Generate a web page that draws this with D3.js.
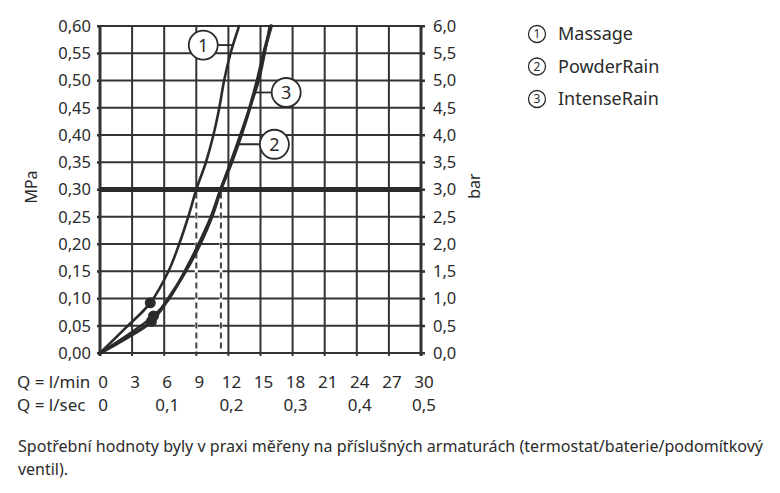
<!DOCTYPE html>
<html lang="cs">
<head>
<meta charset="utf-8">
<title>Průtokový diagram</title>
<script src="https://cdn.jsdelivr.net/npm/d3@7"></script>
<style>
body { margin: 0; background: #fff; }
svg { font-family: "Noto Sans", sans-serif; fill: #2b2b2b; }
.grid line { stroke: #333; stroke-width: 2; }
.curve { fill: none; stroke: #2b2b2b; stroke-linecap: round; }
.axis path { display: none; }
.axis line { stroke: #333; stroke-width: 2; }
.axis text { font-size: 16.5px; fill: #2b2b2b; font-family: "Noto Sans", sans-serif; }
</style>
</head>
<body>
<script>

// flow l/min on x, pressure MPa on y
var flowTicks = [0, 3, 6, 9, 12, 15, 18, 21, 24, 27, 30];
var secLabels = ["0", "0,1", "0,2", "0,3", "0,4", "0,5"]; // every 6 l/min
var mpaTicks = [0, 0.05, 0.10, 0.15, 0.20, 0.25, 0.30, 0.35, 0.40, 0.45, 0.50, 0.55, 0.60];
var barTicks = [0, 0.5, 1, 1.5, 2, 2.5, 3, 3.5, 4, 4.5, 5, 5.5, 6];

var massageQ = [0, 2.4, 4.7, 6.4, 7.4, 8.25, 9.0, 9.9, 10.6, 11.15, 11.6, 12.2, 13.0];
var massageP = [0, 0.046, 0.092, 0.15, 0.20, 0.25, 0.30, 0.35, 0.40, 0.45, 0.50, 0.55, 0.60];

var powderQ = [0, 2.5, 4.8, 6.4, 8.0, 9.35, 10.45, 11.3, 12.3, 13.2, 14.0, 14.7, 15.3, 16.0];
var powderP = [0, 0.028, 0.058, 0.10, 0.15, 0.20, 0.25, 0.30, 0.35, 0.40, 0.45, 0.50, 0.55, 0.60];

var intenseQ = [0, 2.5, 5.0, 6.5, 7.9, 9.2, 10.35, 11.25, 12.2, 13.1, 14.0, 14.85, 15.4, 15.85];
var intenseP = [0, 0.032, 0.068, 0.10, 0.15, 0.20, 0.25, 0.30, 0.35, 0.40, 0.45, 0.50, 0.55, 0.60];

var dotQ = [4.7, 4.8, 5.0];
var dotP = [0.092, 0.058, 0.068];

var refPressure = 0.30;
var refQ = [9.0, 11.3];

var seriesNames = ["Massage", "PowderRain", "IntenseRain"];
// circled number callouts: circle centre (Q, MPa) and where the leader meets the curve
var calloutQ = [9.65, 16.3, 17.4];
var calloutP = [0.565, 0.383, 0.478];
var calloutEndQ = [12.4, 13.0, 14.5];

var caption1 = "Spotřební hodnoty byly v praxi měřeny na příslušných armaturách (termostat/baterie/podomítkový";
var caption2 = "ventil).";

var svg = d3.select("body").append("svg")
  .attr("width", 780)
  .attr("height", 493);

var x = d3.scaleLinear().domain([0, 30]).range([100, 421]);
var y = d3.scaleLinear().domain([0, 0.6]).range([353, 26]);
var yBar = d3.scaleLinear().domain([0, 6]).range([353, 26]);

var comma = function(f) { return function(d) { return d3.format(f)(d).replace(".", ","); }; };

// grid
var grid = svg.append("g").attr("class", "grid");
grid.selectAll(".h").data(mpaTicks).enter().append("line")
  .attr("x1", x(0) - 3).attr("x2", x(30) + 4)
  .attr("y1", function(d) { return y(d); })
  .attr("y2", function(d) { return y(d); });
grid.selectAll(".v").data(flowTicks).enter().append("line")
  .attr("x1", function(d) { return x(d); })
  .attr("x2", function(d) { return x(d); })
  .attr("y1", y(0.6)).attr("y2", y(0) + 3)
  .style("stroke-width", function(d) { return (d == 0 || d == 30) ? 3 : 2; });

// axes labels
svg.append("g").attr("class", "axis")
  .attr("transform", "translate(" + x(0) + ",0)")
  .call(d3.axisLeft(y).tickValues(mpaTicks).tickSize(3).tickPadding(6).tickFormat(comma(".2f")));
svg.append("g").attr("class", "axis")
  .attr("transform", "translate(" + x(30) + ",0)")
  .call(d3.axisRight(yBar).tickValues(barTicks).tickSize(4).tickPadding(8).tickFormat(comma(".1f")));

// reference line at 0.3 MPa
svg.append("line")
  .attr("x1", x(0)).attr("x2", x(30))
  .attr("y1", y(refPressure)).attr("y2", y(refPressure))
  .attr("stroke", "#2b2b2b").attr("stroke-width", 5);

// dashed drop lines: white underlay, dark dashes on top
svg.selectAll(".refbg").data(refQ).enter().append("line")
  .attr("x1", function(d) { return x(d); })
  .attr("x2", function(d) { return x(d); })
  .attr("y1", y(refPressure) + 3).attr("y2", y(0) - 1.5)
  .attr("stroke", "#fff").attr("stroke-width", 3);
svg.selectAll(".ref").data(refQ).enter().append("line")
  .attr("x1", function(d) { return x(d); })
  .attr("x2", function(d) { return x(d); })
  .attr("y1", y(refPressure) + 3).attr("y2", y(0) - 1.5)
  .attr("stroke", "#444").attr("stroke-width", 2)
  .attr("stroke-dasharray", "6,4");

// curves
var line = d3.line()
  .x(function(d) { return x(d[0]); })
  .y(function(d) { return y(d[1]); })
  .curve(d3.curveCatmullRom.alpha(0.5));

var curves = [
  { q: massageQ, p: massageP, w: 2.6 },
  { q: powderQ, p: powderP, w: 3.4 },
  { q: intenseQ, p: intenseP, w: 2.4 }
];
svg.selectAll(".curve").data(curves).enter().append("path")
  .attr("class", "curve")
  .attr("stroke-width", function(d) { return d.w; })
  .attr("d", function(d) { return line(d.q.map(function(q, i) { return [q, d.p[i]]; })); });

svg.selectAll(".dot").data(dotQ).enter().append("circle")
  .attr("cx", function(d) { return x(d); })
  .attr("cy", function(d, i) { return y(dotP[i]); })
  .attr("r", 5.5)
  .attr("fill", "#2b2b2b");

// callouts
var co = svg.selectAll(".callout").data(calloutQ).enter().append("g");
co.append("line")
  .attr("x1", function(d, i) { return x(calloutEndQ[i]); })
  .attr("x2", function(d) { return x(d); })
  .attr("y1", function(d, i) { return y(calloutP[i]); })
  .attr("y2", function(d, i) { return y(calloutP[i]); })
  .attr("stroke", "#2b2b2b").attr("stroke-width", 1.8);
co.append("circle")
  .attr("cx", function(d) { return x(d); })
  .attr("cy", function(d, i) { return y(calloutP[i]); })
  .attr("r", 14.5)
  .attr("fill", "#fff").attr("stroke", "#2b2b2b").attr("stroke-width", 1.8);
co.append("text")
  .attr("x", function(d) { return x(d); })
  .attr("y", function(d, i) { return y(calloutP[i]); })
  .attr("dy", "0.36em")
  .attr("text-anchor", "middle")
  .style("font-size", "18px")
  .text(function(d, i) { return i + 1; });

// bottom rows
svg.append("text").attr("x", 17).attr("y", 388).style("font-size", "17px").text("Q = l/min");
svg.append("text").attr("x", 17).attr("y", 411).style("font-size", "17px").text("Q = l/sec");
svg.selectAll(".qmin").data(flowTicks).enter().append("text")
  .attr("x", function(d) { return x(d) + 3; })
  .attr("y", 388)
  .attr("text-anchor", "middle")
  .style("font-size", "17px")
  .text(function(d) { return d; });
svg.selectAll(".qsec").data(secLabels).enter().append("text")
  .attr("x", function(d, i) { return x(i * 6) + 3; })
  .attr("y", 411)
  .attr("text-anchor", "middle")
  .style("font-size", "17px")
  .text(function(d) { return d; });

// axis titles
svg.append("text").attr("transform", "translate(37,187) rotate(-90)")
  .attr("text-anchor", "middle").style("font-size", "16px").text("MPa");
svg.append("text").attr("transform", "translate(480,186) rotate(-90)")
  .attr("text-anchor", "middle").style("font-size", "16px").text("bar");

// legend
var leg = svg.selectAll(".leg").data(seriesNames).enter().append("g")
  .attr("transform", function(d, i) { return "translate(537," + (34 + i * 32.5) + ")"; });
leg.append("circle").attr("r", 8.5).attr("fill", "none").attr("stroke", "#2b2b2b").attr("stroke-width", 1.3);
leg.append("text").attr("text-anchor", "middle").attr("dy", "0.36em")
  .style("font-size", "12px").text(function(d, i) { return i + 1; });
leg.append("text").attr("x", 21).attr("dy", "0.36em")
  .style("font-size", "18px").text(function(d) { return d; });

// caption
svg.append("text").attr("x", 18).attr("y", 452)
  .attr("textLength", 745).attr("lengthAdjust", "spacingAndGlyphs")
  .style("font-size", "15.5px").text(caption1);
svg.append("text").attr("x", 18).attr("y", 475)
  .style("font-size", "15.5px").attr("textLength", 50).attr("lengthAdjust", "spacingAndGlyphs")
  .text(caption2);

</script>
</body>
</html>
